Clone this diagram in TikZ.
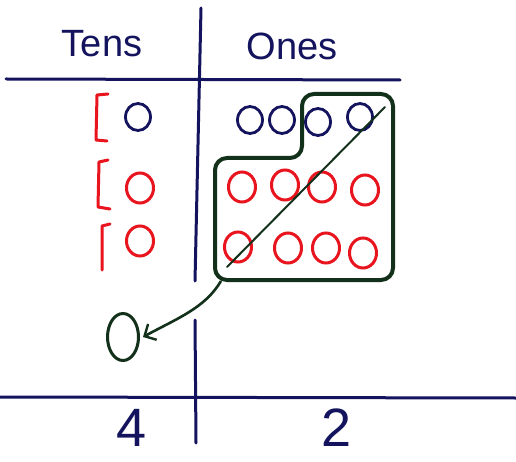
\documentclass[tikz,border=0pt]{standalone}
\usepackage{fontspec}
\setmainfont{Liberation Sans}
\usetikzlibrary{arrows.meta,shapes.geometric}
\definecolor{ink}{HTML}{14145E}
\definecolor{redink}{HTML}{E8141E}
\definecolor{greenink}{HTML}{12301A}
\begin{document}
\begin{tikzpicture}[x=1pt,y=-1pt,
  rule/.style={draw=ink,line width=3pt,line cap=round},
  head/.style={text=ink,font=\fontsize{38}{42}\selectfont,anchor=base,inner sep=0pt},
  digit/.style={text=ink,font=\fontsize{54}{60}\selectfont,anchor=base,inner sep=0pt},
  blueo/.style={ellipse,draw=ink,line width=2.8pt,minimum width=25pt,minimum height=27pt,inner sep=0pt},
  redo/.style={ellipse,draw=redink,line width=3pt,minimum width=27pt,minimum height=30pt,inner sep=0pt},
  brack/.style={draw=redink,line width=3pt,line cap=round,line join=round},
  group/.style={draw=greenink,line width=4pt,rounded corners=12pt,line join=round},
  cross/.style={draw=greenink,line width=2pt,line cap=round},
  carry/.style={draw=greenink,line width=2.6pt,-{Straight Barb[length=9pt,width=18pt,line width=2.4pt]}}]
\useasboundingbox (0,0) rectangle (516,462);
\fill[white] (0,0) rectangle (516,462);

% column frame
\draw[rule] (201,8) -- (195,281);
\draw[rule] (195,320) -- (196,443);
\draw[rule] (6,79) -- (400,80);
\draw[rule] (0,397) -- (516,398);

% headings
\node[head] (tens) at (102,57) {Tens};
\node[head] (ones) at (292,60) {Ones};

% tens column: brackets and rods
\draw[brack] (108,94) -- (97,95) -- (96,140) -- (107,141);
\draw[brack] (108,160) -- (99,162) -- (98,207) -- (110,209);
\draw[brack] (110,224) -- (102,226) -- (102,270);
\node[blueo] (t1) at (138,117) {};
\node[redo] (t2) at (140,188) {};
\node[redo] (t3) at (140,241) {};

% ones column
\node[blueo] (o1) at (250,120) {};
\node[blueo] (o2) at (282,120) {};
\node[blueo] (o3) at (318,122) {};
\node[blueo] (o4) at (360,117) {};
\node[redo] (r1) at (242,187) {};
\node[redo] (r2) at (285,185) {};
\node[redo] (r3) at (322,187) {};
\node[redo] (r4) at (365,190) {};
\node[redo] (s1) at (238,247) {};
\node[redo] (s2) at (288,248) {};
\node[redo] (s3) at (326,248) {};
\node[redo] (s4) at (363,253) {};

% group of ten, crossed out
\draw[group] (302,94) -- (393,94) -- (393,280) -- (215,280) -- (215,158) -- (302,158) -- cycle;
\coordinate (xa) at (227,267);
\coordinate (xb) at (385,107);
\draw[cross] (xa) -- (xb);

% carried ten
\node[ellipse,draw=greenink,line width=3pt,minimum width=31pt,minimum height=47pt,inner sep=0pt] (zero) at (123,337) {};
\coordinate (corner) at (221,281);
\draw[carry] (corner) .. controls (205,308) and (178,318) .. ([xshift=3pt]zero.east);

% result digits
\node[digit] (four) at (132,446) {4};
\node[digit] (two) at (337,446) {2};
\end{tikzpicture}
\end{document}
